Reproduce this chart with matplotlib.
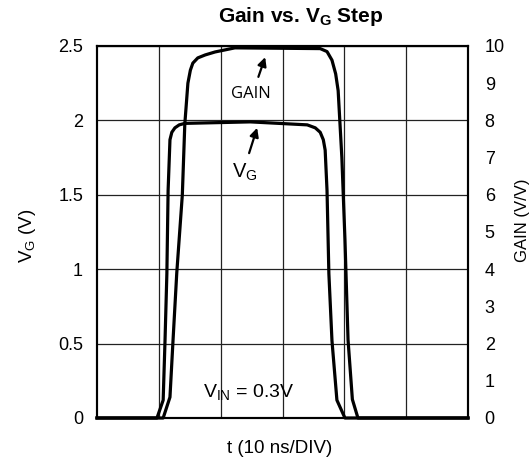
import matplotlib
matplotlib.use("Agg")
import matplotlib.pyplot as plt

plt.rcParams['font.family'] = ['Liberation Sans', 'DejaVu Sans']

# time in divisions (10 ns/DIV)
vg_t = [0, 0.97, 1.07, 1.10, 1.13, 1.15, 1.18, 1.21, 1.26, 1.33, 1.42, 2.48, 3.40, 3.53,
        3.61, 3.66, 3.69, 3.72, 3.75, 3.80, 3.88, 4.01, 6]
vg_v = [0, 0, 0.12, 0.52, 0.97, 1.53, 1.87, 1.92, 1.95, 1.97, 1.98, 1.99, 1.97, 1.95,
        1.92, 1.87, 1.80, 1.53, 0.97, 0.52, 0.12, 0, 0]

gain_t = [0, 1.07, 1.18, 1.23, 1.29, 1.38, 1.42, 1.47, 1.51, 1.55, 1.63, 1.75, 1.91, 2.23,
          3.61, 3.72, 3.80, 3.86, 3.90, 3.96, 4.01, 4.06, 4.13, 4.22, 6]
gain_v = [0, 0, 0.56, 2.1, 3.9, 6.0, 7.9, 9.0, 9.35, 9.54, 9.68, 9.76, 9.84, 9.95,
          9.93, 9.85, 9.62, 9.25, 8.8, 7.0, 4.8, 2.1, 0.5, 0, 0]

vg_ticks = [0, 0.5, 1, 1.5, 2, 2.5]
vg_ticklabels = ['0', '0.5', '1', '1.5', '2', '2.5']
gain_ticks = list(range(11))

fig = plt.figure(figsize=(5.32, 4.66), dpi=100)
ax = fig.add_axes([97 / 532, 1 - 418 / 466, 371 / 532, 372 / 466])

ax.set_xlim(0, 6)
ax.set_ylim(0, 2.5)
ax.set_xticks([1, 2, 3, 4, 5])
ax.set_xticklabels([])
ax.set_yticks(vg_ticks)
ax.set_yticklabels(vg_ticklabels)
ax.tick_params(axis='both', length=0, labelsize=13)
ax.tick_params(axis='y', pad=10)
ax.grid(True, color='#222222', linewidth=0.9)
for s in ax.spines.values():
    s.set_linewidth(1.5)

ax.plot(vg_t, vg_v, color='black', linewidth=2.3, solid_joinstyle='round', clip_on=False)

ax2 = ax.twinx()
ax2.set_ylim(0, 10)
ax2.set_yticks(gain_ticks)
ax2.tick_params(axis='y', length=0, labelsize=13, pad=12)
for s in ax2.spines.values():
    s.set_linewidth(1.5)
ax2.plot(gain_t, gain_v, color='black', linewidth=2.3, solid_joinstyle='round', clip_on=False)

ax.set_ylabel(r'V$_\mathregular{G}$ (V)', fontsize=13.5)
ax.yaxis.set_label_coords(-0.159, 0.489)
ax2.set_ylabel('GAIN (V/V)', fontsize=12)
ax2.yaxis.set_label_coords(1.127, 0.532)
ax.set_xlabel('t (10 ns/DIV)', fontsize=13.5)
ax.xaxis.set_label_coords(0.493, -0.058)

fig.text(301 / 532, 1 - 17 / 466, r'Gain vs. V$_\mathregular{G}$ Step', fontsize=15,
         fontweight='bold', ha='center', va='center')

arrow = dict(arrowstyle='-|>', color='black', lw=1.6, mutation_scale=13, shrinkA=0, shrinkB=0)
ax2.annotate('', xy=(2.72, 9.70), xytext=(2.61, 9.17), arrowprops=arrow)
ax2.text(2.49, 8.71, 'GAIN', fontsize=12, family='Open Sans', ha='center', va='center')
ax.annotate('', xy=(2.59, 1.95), xytext=(2.46, 1.78), arrowprops=arrow)
ax.text(2.39, 1.65, r'V$_\mathregular{G}$', fontsize=14.5, ha='center', va='center')
ax.text(2.46, 0.168, r'V$_\mathregular{IN}$ = 0.3V', fontsize=14, ha='center', va='center')

fig.savefig('out.png', dpi=100)
